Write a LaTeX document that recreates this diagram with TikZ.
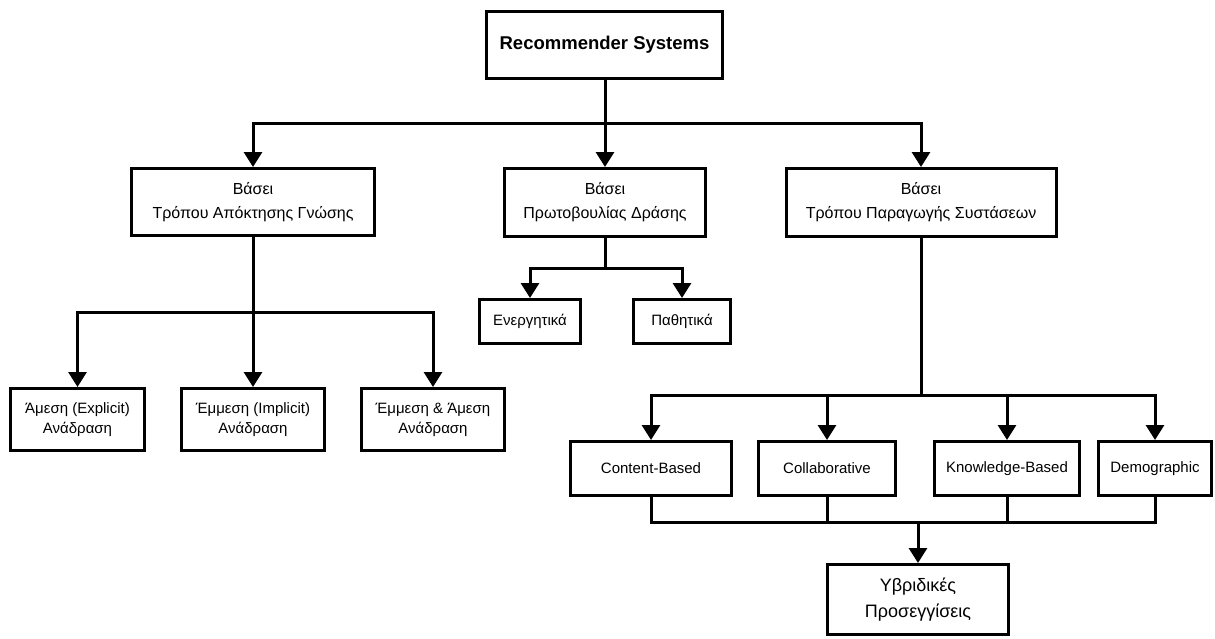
\documentclass[tikz,border=0pt]{standalone}
\usepackage{fontspec}
\setmainfont{Liberation Sans}
\usetikzlibrary{arrows.meta}
\begin{document}
\begin{tikzpicture}[x=1pt,y=-1pt,
  box/.style={draw, line width=3pt, inner sep=0pt, align=center, fill=white},
  link/.style={line width=3pt},
  arr/.style={line width=3pt, -{Triangle[length=15pt,width=18pt]}},
  fsmall/.style={font=\fontsize{15}{20}\selectfont},
  fmid/.style={font=\fontsize{16}{24}\selectfont},
  fbig/.style={font=\fontsize{18}{26}\selectfont}]
\useasboundingbox (0,0) rectangle (1215,638);

% top level
\node[box, minimum width=236pt, minimum height=67pt,
      font=\bfseries\fontsize{18.5}{22}\selectfont] (root) at (604.5,45) {Recommender Systems};

% second level
\node[box, fmid, minimum width=243pt, minimum height=67pt] (A) at (253,202) {Βάσει\\Τρόπου Απόκτησης Γνώσης};
\node[box, fmid, minimum width=201pt, minimum height=68pt] (B) at (605,202.5) {Βάσει\\Πρωτοβουλίας Δράσης};
\node[box, fmid, minimum width=270pt, minimum height=68pt] (C) at (921,202.5) {Βάσει\\Τρόπου Παραγωγής Συστάσεων};

% knowledge acquisition
\node[box, fsmall, minimum width=134pt, minimum height=62pt] (A1) at (77.5,419.5) {Άμεση (Explicit)\\Ανάδραση};
\node[box, fsmall, minimum width=143pt, minimum height=62pt] (A2) at (253,419.5) {Έμμεση (Implicit)\\Ανάδραση};
\node[box, fsmall, minimum width=143pt, minimum height=62pt] (A3) at (433,419.5) {Έμμεση \& Άμεση\\Ανάδραση};

% initiative
\node[box, fsmall, minimum width=101pt, minimum height=44pt] (B1) at (530,321.5) {Ενεργητικά};
\node[box, fsmall, minimum width=97pt, minimum height=44pt] (B2) at (682,321.5) {Παθητικά};

% recommendation techniques
\node[box, fsmall, minimum width=161pt, minimum height=54pt] (C1) at (651,468.5) {Content-Based};
\node[box, fsmall, minimum width=137pt, minimum height=54pt] (C2) at (827,468.5) {Collaborative};
\node[box, fsmall, minimum width=145pt, minimum height=54pt] (C3) at (1007,468.5) {Knowledge-Based};
\node[box, fsmall, minimum width=113pt, minimum height=54pt] (C4) at (1155,468.5) {Demographic};

\node[box, fbig, minimum width=181pt, minimum height=70pt] (H) at (918,599.5) {Υβριδικές\\Προσεγγίσεις};

% junction points
\coordinate (j0) at (605,123);
\coordinate (jA) at (253,312);
\coordinate (jB) at (605,268);
\coordinate (jC) at (921,395);
\coordinate (jM) at (918,522);

% connectors
\draw[link] (root.south -| j0) -- (j0);
\draw[arr] (j0) -| (A);
\draw[arr] (j0) -| (C);
\draw[arr] (j0) -- (B);

\draw[link] (A) -- (jA);
\draw[arr] (jA) -| (A1);
\draw[arr] (jA) -| (A3);
\draw[arr] (jA) -- (A2);

\draw[link] (B) -- (jB);
\draw[arr] (jB) -| (B1);
\draw[arr] (jB) -| (B2);

\draw[link] (C) -- (jC);
\draw[arr] (jC) -| (C1);
\draw[arr] (jC) -| (C2);
\draw[arr] (jC) -| (C3);
\draw[arr] (jC) -| (C4);

\draw[link] (C1) |- (jM) -| (C4);
\draw[link] (C2) -- (C2 |- jM);
\draw[link] (C3) -- (C3 |- jM);
\draw[arr] (jM) -- (H);
\end{tikzpicture}
\end{document}
